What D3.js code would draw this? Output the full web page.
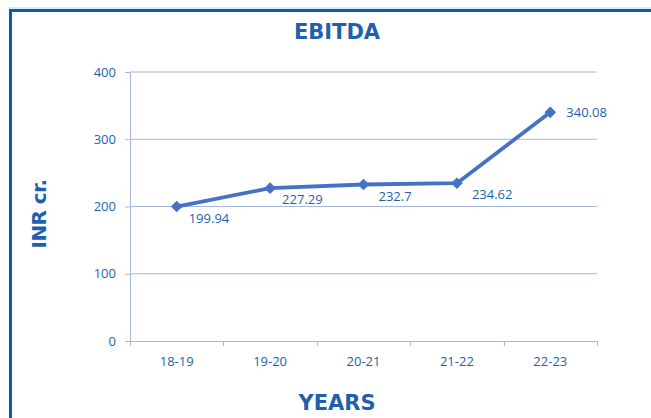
<!DOCTYPE html>
<html>
<head>
<meta charset="utf-8">
<script src="https://cdn.jsdelivr.net/npm/d3@7"></script>
<style>
  body { margin: 0; background: #fff; }
  text { font-family: "Open Sans", "Noto Sans", sans-serif; }
  .ttl { font-family: "DejaVu Sans", Verdana, sans-serif; font-weight: bold; }
</style>
</head>
<body>
<svg id="chart" width="651" height="418"></svg>
<script>
const years = ["18-19", "19-20", "20-21", "21-22", "22-23"];
const ebitda = [199.94, 227.29, 232.7, 234.62, 340.08];
const labels = ["199.94", "227.29", "232.7", "234.62", "340.08"];
const yTicks = [0, 100, 200, 300, 400];

const svg = d3.select("#chart");
const margin = { top: 72, left: 130, right: 54, bottom: 77 };
const width = 651 - margin.left - margin.right;
const height = 418 - margin.top - margin.bottom;

const blue = "#1F5FAD";
const gridCol = "#A9B6DB";
const lineCol = "#4472C4";

// outer frame
svg.append("line")
  .attr("x1", 8).attr("x2", 651).attr("y1", 8).attr("y2", 8)
  .attr("stroke", "#BDD7EE").attr("stroke-width", 1);
svg.append("path")
  .attr("d", "M10.5,418 V10.5 H651")
  .attr("fill", "none")
  .attr("stroke", "#0B5CB0")
  .attr("stroke-width", 3);

// title
svg.append("text")
  .attr("class", "ttl")
  .attr("x", 337).attr("y", 39)
  .attr("text-anchor", "middle")
  .attr("font-size", 21)
  .attr("fill", blue)
  .text("EBITDA");

const g = svg.append("g").attr("transform", `translate(${margin.left},${margin.top})`);

const x = d3.scaleBand().domain(years).range([0, width]);
const y = d3.scaleLinear().domain([0, 400]).range([height, 0]);

// grid
g.append("g")
  .selectAll("line")
  .data(yTicks.slice(1))
  .join("line")
  .attr("x1", 0).attr("x2", width)
  .attr("y1", d => y(d)).attr("y2", d => y(d))
  .attr("stroke", gridCol).attr("stroke-width", 1);

// y axis
const yAxis = g.append("g")
  .call(d3.axisLeft(y).tickValues(yTicks).tickSize(5).tickPadding(9));
yAxis.select(".domain").attr("stroke", gridCol).attr("d", `M-5,0.5 H0.5 V${height}`);
yAxis.selectAll(".tick line").attr("stroke", gridCol);
yAxis.selectAll("text").attr("fill", blue).attr("font-size", 13)
  .style("font-family", "'Open Sans', 'Noto Sans', sans-serif");

// x axis with ticks at category boundaries
const xAxis = g.append("g").attr("transform", `translate(0,${height})`);
xAxis.append("line")
  .attr("x1", 0).attr("x2", width).attr("y1", 0.5).attr("y2", 0.5)
  .attr("stroke", gridCol);
xAxis.selectAll(".xt")
  .data(d3.range(years.length + 1))
  .join("line")
  .attr("class", "xt")
  .attr("x1", i => Math.round(i * x.step()) + 0.5)
  .attr("x2", i => Math.round(i * x.step()) + 0.5)
  .attr("y1", 0).attr("y2", 5)
  .attr("stroke", gridCol);
xAxis.selectAll(".xl")
  .data(years)
  .join("text")
  .attr("class", "xl")
  .attr("x", d => x(d) + x.bandwidth() / 2)
  .attr("y", 25)
  .attr("text-anchor", "middle")
  .attr("font-size", 13)
  .attr("fill", blue)
  .text(d => d);

// axis titles
svg.append("text")
  .attr("class", "ttl")
  .attr("x", 337).attr("y", 410)
  .attr("text-anchor", "middle")
  .attr("font-size", 21)
  .attr("fill", blue)
  .text("YEARS");
svg.append("text")
  .attr("class", "ttl")
  .attr("transform", "translate(46,214) rotate(-90)")
  .attr("text-anchor", "middle")
  .attr("font-size", 20)
  .attr("letter-spacing", -0.6)
  .attr("fill", blue)
  .text("INR cr.");

// line
const pts = years.map((d, i) => ({ year: d, value: ebitda[i], label: labels[i] }));
const cx = d => x(d.year) + x.bandwidth() / 2;
const line = d3.line()
  .x(cx)
  .y(d => y(d.value));

g.append("path")
  .datum(pts)
  .attr("fill", "none")
  .attr("stroke", lineCol)
  .attr("stroke-width", 3.8)
  .attr("stroke-linejoin", "round")
  .attr("d", line);

g.selectAll(".pt")
  .data(pts)
  .join("path")
  .attr("class", "pt")
  .attr("d", d3.symbol(d3.symbolSquare, 68))
  .attr("transform", d => `translate(${cx(d)},${y(d.value)}) rotate(45)`)
  .attr("fill", lineCol);

// data labels (offset right of each point)
const labelDx = [12, 12, 15, 15, 16];
const labelDy = [16, 16, 16, 16, 5];
g.selectAll(".dl")
  .data(pts)
  .join("text")
  .attr("class", "dl")
  .attr("x", (d, i) => cx(d) + labelDx[i])
  .attr("y", (d, i) => y(d.value) + labelDy[i])
  .attr("font-size", 13)
  .attr("fill", blue)
  .text(d => d.label);
</script>
</body>
</html>
